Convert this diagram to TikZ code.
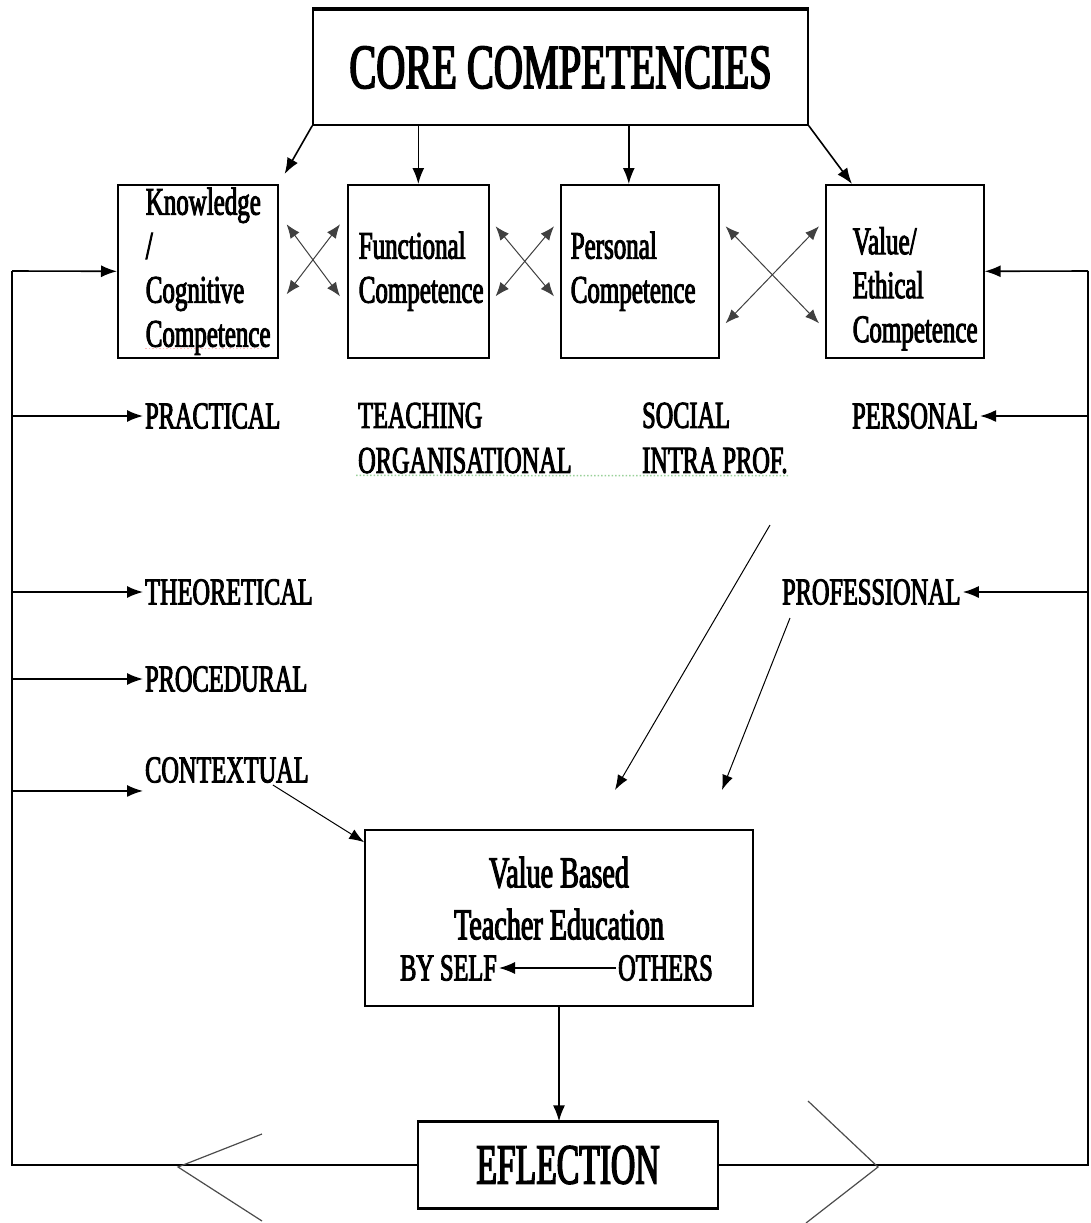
\documentclass[tikz,border=0pt]{standalone}
\usepackage{fontspec}
\newfontfamily\cc{Liberation Serif}[FakeStretch=0.64,FakeBold=2.5]
\newfontfamily\ccn{Liberation Serif}[FakeStretch=0.59,FakeBold=2.5]
\usepackage{tikz}
\usetikzlibrary{arrows.meta,calc,positioning}
\hyphenpenalty=10000

\tikzset{
  comp/.style={draw, line width=1.6pt, anchor=north west, align=left, inner ysep=0pt,
    minimum height=173pt, font=\cc\fontsize{39}{44}\selectfont},
  lbl/.style={anchor=west, inner sep=2pt, align=left, font=\cc\fontsize{38}{45}\selectfont},
  arr/.style={line width=1.6pt, -{Latex[length=16pt,width=12pt]}},
  thinarr/.style={line width=1pt, -{Latex[length=15pt,width=11pt]}},
  cross/.style={line width=1pt, black!75, {Latex[length=14pt,width=11pt]}-{Latex[length=14pt,width=11pt]}},
}

\begin{document}
\begin{tikzpicture}[x=1pt,y=-1pt]
\path[use as bounding box, fill=white] (0,0) rectangle (1091,1223);

% top box
\node[draw, line width=1.6pt, minimum width=495pt, minimum height=115pt,
  font=\cc\fontsize{63}{70}\selectfont] (core) at (560.5,67.5) {CORE COMPETENCIES};
\draw[line width=3.5pt] (core.north west) -- (core.north east);

% the four competences
\node[comp, inner xsep=28pt, text width=104pt] (know) at (117,184) {Knowledge\\/\\Cognitive\\Competence};
\node[comp, inner xsep=11pt, text width=119pt] (func) at (347,184) {Functional\\Competence};
\node[comp, inner xsep=10pt, text width=138pt] (pers) at (560,184) {Personal\\Competence};
\node[comp, inner xsep=27pt, text width=104pt] (val) at (825,184) {\rule{0pt}{62pt}Value/\\Ethical\\Competence};

\coordinate (pt) at ($(pers.north)+(-11,0)$);
\draw[arr] (core.south west) -- ([shift={(6,-10)}]know.north east);
\draw[arr] (func.north |- core.south) -- (func.north);
\draw[arr] (pt |- core.south) -- (pt);
\draw[arr] (core.south east) -- ([xshift=27pt]val.north west);

\draw[cross] ([shift={(8,-47)}]know.east) -- ([shift={(-7,25)}]func.west);
\draw[cross] ([shift={(8,23)}]know.east) -- ([shift={(-7,-47)}]func.west);
\draw[cross] ([shift={(6,-45)}]func.east) -- ([shift={(-6,25)}]pers.west);
\draw[cross] ([shift={(6,25)}]func.east) -- ([shift={(-6,-45)}]pers.west);
\draw[cross] ([shift={(6,-45)}]pers.east) -- ([shift={(-6,52)}]val.west);
\draw[cross] ([shift={(6,52)}]pers.east) -- ([shift={(-6,-45)}]val.west);

% labels
\node[lbl] (prac) at (143,416) {PRACTICAL};
\node[lbl] (teach) at (356,438) {TEACHING\\ORGANISATIONAL};
\node[lbl] (soc) at (640,438) {SOCIAL\\INTRA PROF.};
\node[lbl] (persl) at (850,416) {PERSONAL};
\node[lbl] (theo) at (143,592) {THEORETICAL};
\node[lbl] (proc) at (143,679) {PROCEDURAL};
\node[lbl] (ctx) at (143,770) {CONTEXTUAL};
\node[lbl] (prof) at (780,592) {PROFESSIONAL};

\draw[green!55!black, dotted, line width=1.5pt, opacity=.4] (teach.south west) -- (soc.south east);
\draw[red!70, dotted, line width=1.5pt, opacity=.4] ([shift={(28,-10)}]know.south west) -- ([shift={(-15,-10)}]know.south east);

% value based teacher education
\node[draw, line width=1.6pt, minimum width=388pt, minimum height=176pt, align=center,
  font=\cc\fontsize{44}{52}\selectfont] (vbte) at (559,918) {Value Based\\Teacher Education\rule[-40pt]{0pt}{0pt}};
\node[lbl] (byself) at (398,968) {BY SELF};
\node[lbl] (others) at (616,968) {OTHERS};
\draw[arr, line width=1.2pt] (others.west) -- (byself.east);

\node[draw, line width=1.2pt, minimum width=300pt, minimum height=86pt,
  font=\ccn\fontsize{57}{62}\selectfont] (efl) at (568,1165) {EFLECTION};
\draw[line width=3pt] (efl.north west) -- (efl.north east);
\draw[line width=3pt] (efl.south west) -- (efl.south east);
\draw[arr] (vbte.south) -- (vbte.south |- efl.north);

\coordinate (a1) at (770,525);
\coordinate (a2) at (615,790);
\coordinate (b1) at (790,618);
\coordinate (b2) at (722,790);
\draw[thinarr] (a1) -- (a2);
\draw[thinarr] (b1) -- (b2);
\draw[thinarr] ([xshift=-38pt]ctx.south east) -- ([yshift=-13pt]vbte.north west);

% feedback frame
\coordinate (lt) at (12,271);
\coordinate (rt) at (1088,271);
\coordinate (ctxin) at ([yshift=-6pt]ctx.south west);
\draw[line width=1.6pt] (efl.west) -| (lt);
\draw[arr] (lt) -- (know.west);
\draw[arr] (prac.west -| lt) -- (prac.west);
\draw[arr] (theo.west -| lt) -- (theo.west);
\draw[arr] (proc.west -| lt) -- (proc.west);
\draw[arr] (ctxin -| lt) -- (ctxin);
\draw[line width=1.6pt] (efl.east) -| (rt);
\draw[arr] (rt) -- (val.east);
\draw[arr] (persl.east -| rt) -- (persl.east);
\draw[arr] (prof.east -| rt) -- (prof.east);

\draw[line width=1.2pt, black!70] (262,1134) -- (178,1167) -- (262,1221);
\draw[line width=1.2pt, black!70] (808,1101) -- (878,1167) -- (806,1223);
\end{tikzpicture}
\end{document}
